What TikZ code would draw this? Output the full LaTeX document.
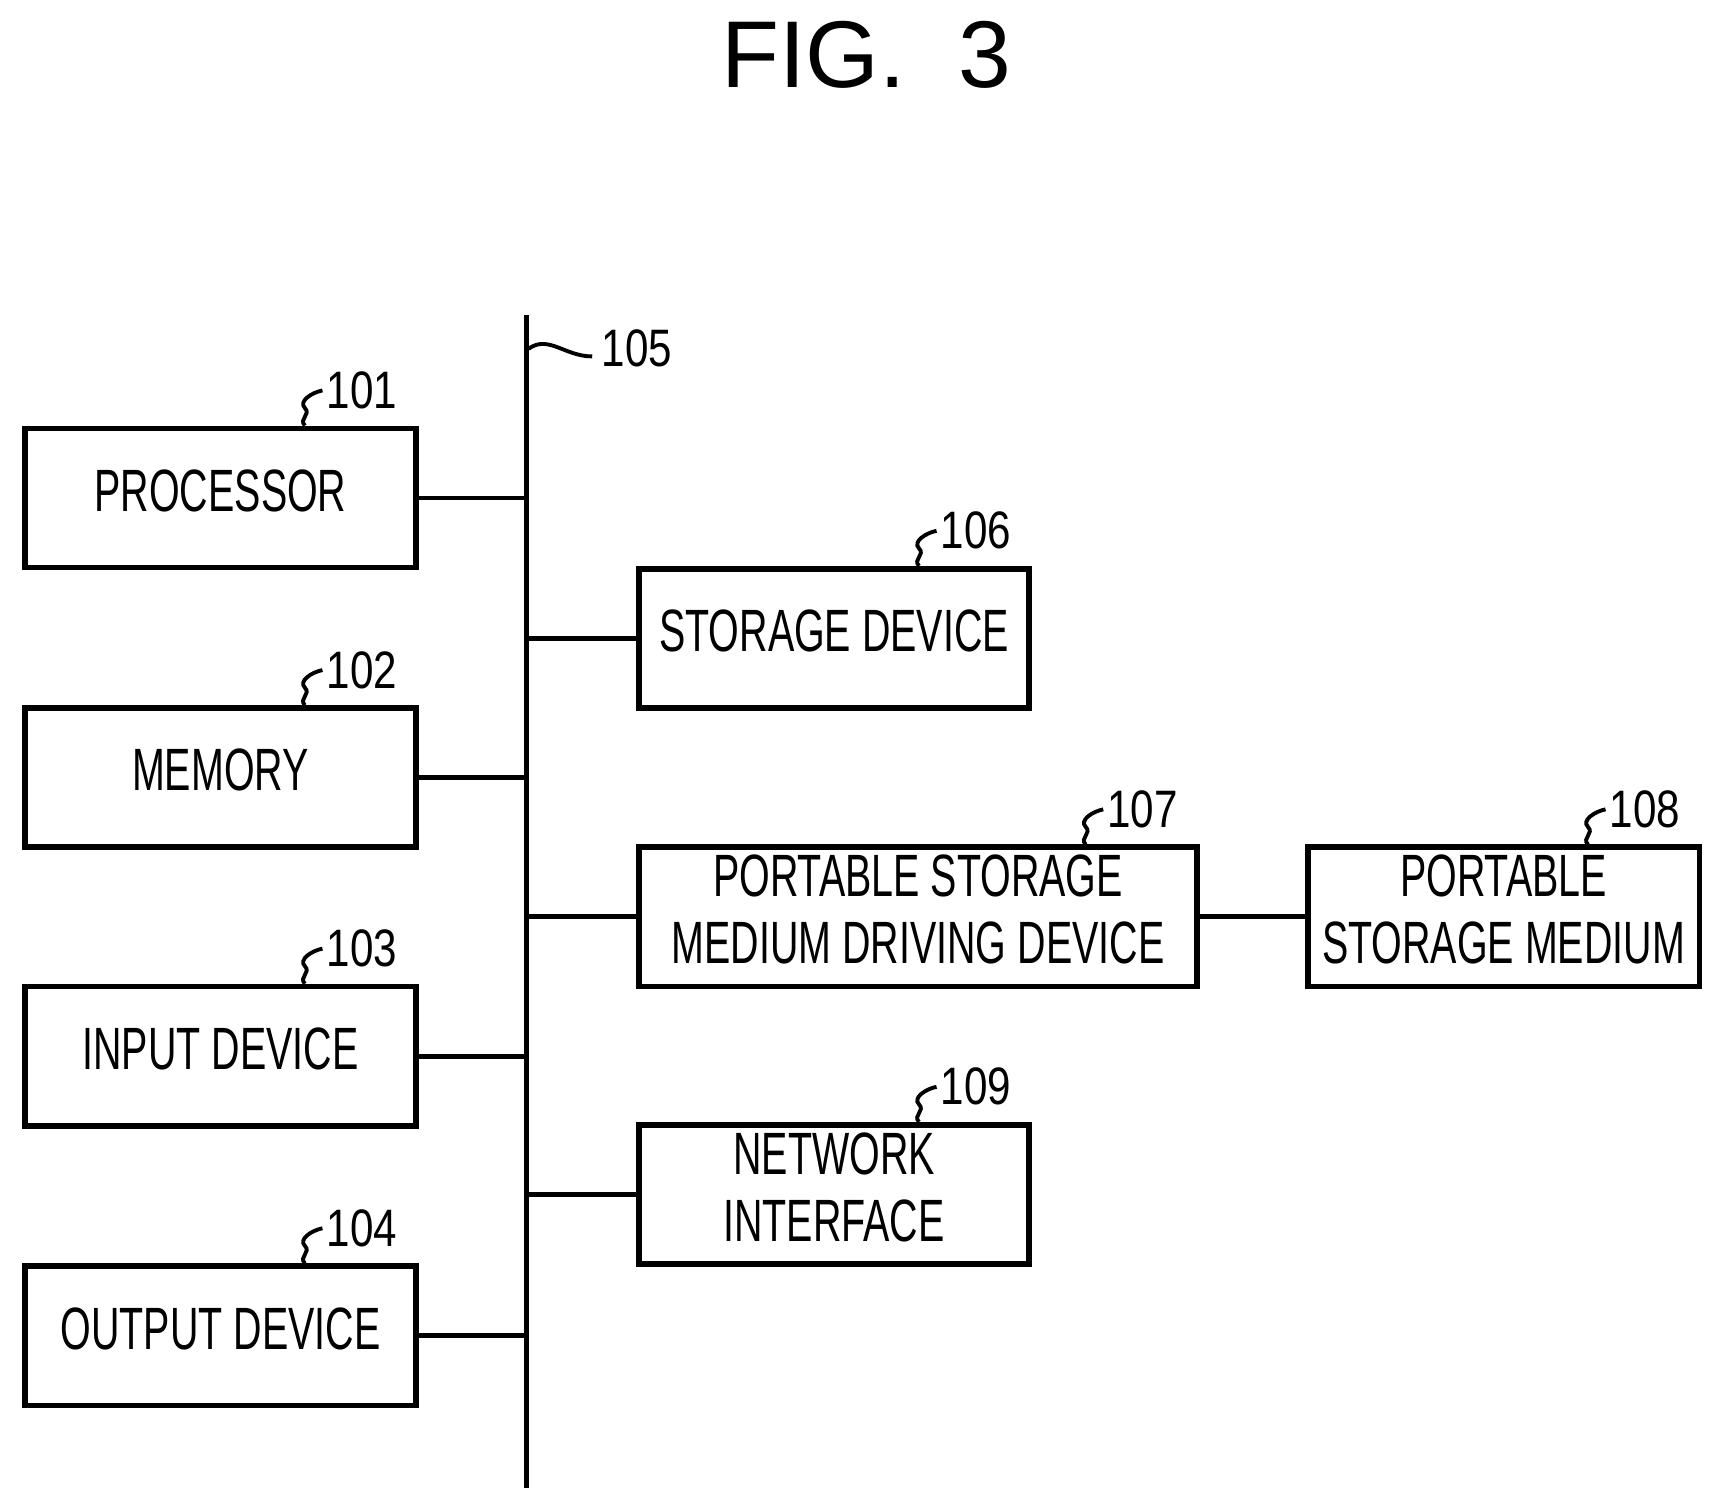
\documentclass[tikz,border=0pt]{standalone}
\usepackage{fontspec}
\setmainfont{Liberation Sans}
\usepackage{graphicx}
\newcommand{\nt}[1]{\scalebox{0.66}[1]{\begin{tabular}{@{}c@{}}#1\end{tabular}}}
\begin{document}
\begin{tikzpicture}[x=0.01097cm,y=-0.01097cm,
  box/.style={draw,line width=1.6pt,inner sep=0pt,anchor=north west,font=\fontsize{17}{19}\selectfont},
  ln/.style={line width=1.4pt},
  num/.style={font=\fontsize{15}{17}\selectfont,anchor=west,inner sep=1pt}]
\useasboundingbox (0,0) rectangle (1562,1370);
\node[font=\fontsize{27}{30}\selectfont] (title) at (790,50) {FIG.\ \ 3};
\coordinate (bt) at (480,287); \coordinate (bb) at (480,1357);
\draw[ln] (bt) -- (bb);
\newcommand{\bx}[5]{\node[box,minimum width={#4*0.01097cm},minimum height={127*0.01097cm}] (#1) at (#2,#3) {\nt{#5}};}
\bx{p}{20}{388}{357}{PROCESSOR}
\bx{m}{20}{643}{357}{MEMORY}
\bx{i}{20}{897}{357}{INPUT DEVICE}
\bx{o}{20}{1152}{357}{OUTPUT DEVICE}
\bx{s}{580}{516}{356}{STORAGE DEVICE}
\bx{d}{580}{770}{509}{PORTABLE STORAGE\\[0pt]MEDIUM DRIVING DEVICE}
\bx{r}{1190}{770}{357}{PORTABLE\\[0pt]STORAGE MEDIUM}
\bx{n}{580}{1023}{356}{NETWORK\\[0pt]INTERFACE}
\foreach \a in {p,m,i,o} \draw[ln] (\a.east) -- (\a.east -| bt);
\foreach \a in {s,d,n} \draw[ln] (\a.west) -- (\a.west -| bt);
\draw[ln] (d.east) -- (r.west);
% labels
\newcommand{\lb}[4]{\coordinate (#1c) at (#2,#3);
 \draw[line width=1.1pt] (#1c) .. controls ++(-6,-6) and ++(6,6) .. ++(0,-16) .. controls ++(-6,-6) and ++(-10,2) .. ++(16,-16) coordinate (#1e);
 \node[num] (#1l) at (#1e) {\scalebox{0.8}[1]{#4}};}
\lb{a}{278}{388}{101}
\lb{b}{278}{643}{102}
\lb{c}{278}{897}{103}
\lb{e}{278}{1152}{104}
\lb{f}{838}{516}{106}
\lb{g}{990}{770}{107}
\lb{h}{1448}{770}{108}
\lb{k}{838}{1023}{109}
\coordinate (bc) at (482,318);
\draw[line width=1.1pt] (bc) .. controls (500,305) and (515,325) .. (540,325) coordinate (be);
\node[num] (bl) at (545,318) {\scalebox{0.8}[1]{105}};
\end{tikzpicture}
\end{document}
